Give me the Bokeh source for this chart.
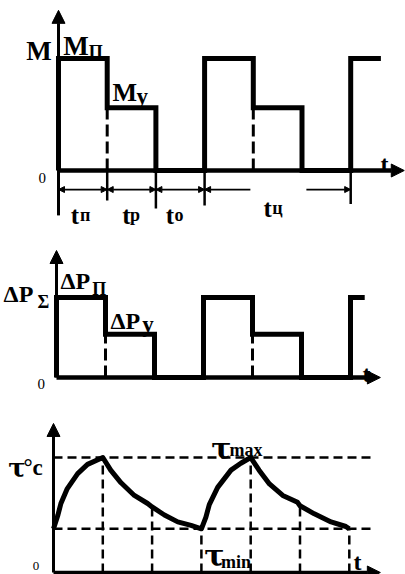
from bokeh.plotting import figure
from bokeh.models import Range1d, Arrow, NormalHead, Label
from bokeh.layouts import column
from bokeh.embed import file_html
from bokeh.resources import INLINE

# --- duty cycle data (time in units of one phase) ---
phase_labels = [("t", "п"), ("t", "р"), ("t", "о")]   # start-up, run, pause
phase_durations = [1.0, 1.0, 1.0]
cycle_label = ("t", "ц")
cycles_shown = 2

torque_levels = [1.0, 0.56, 0.0]      # M_п, M_у, rest
torque_tail = 0.62                    # start of the next cycle
loss_levels = [1.0, 0.54, 0.0]        # ΔP_п, ΔP_у, rest
loss_tail = 0.29

# motor temperature over two cycles (relative to τmax)
temp_t = [0.0, 0.09, 0.15, 0.28, 0.49, 0.69, 1.0,
          1.16, 1.37, 1.64, 1.91, 2.0,
          2.25, 2.52, 2.79, 3.0,
          3.09, 3.16, 3.33, 3.60, 3.80, 4.0,
          4.17, 4.38, 4.65, 4.95, 5.0,
          5.29, 5.63, 5.93, 6.0]
temp_v = [0.38, 0.50, 0.60, 0.73, 0.86, 0.94, 1.0,
          0.89, 0.78, 0.67, 0.60, 0.57,
          0.50, 0.44, 0.41, 0.38,
          0.48, 0.59, 0.74, 0.89, 0.95, 1.0,
          0.89, 0.77, 0.67, 0.61, 0.58,
          0.51, 0.44, 0.40, 0.38]
tau_max = 1.0
tau_min = 0.38

W = 405
SERIF = "Liberation Serif"
GREEK = "DejaVu Serif"


def panel(height, x0, ux, base, uy):
    """Blank panel whose data origin sits x0 px from the left and base px from the top."""
    p = figure(width=W, height=height,
               x_range=Range1d(-x0 / ux, (W - x0) / ux),
               y_range=Range1d(-(height - base) / uy, base / uy),
               output_backend="svg", toolbar_location=None,
               x_axis_location=None, y_axis_location=None,
               min_border=0, min_border_left=0, min_border_right=0,
               min_border_top=0, min_border_bottom=0)
    p.grid.visible = False
    p.outline_line_color = None
    p.background_fill_color = "white"
    p.border_fill_color = "white"
    return p


def txt(p, x, y, s, size, bold=True, font=SERIF):
    p.add_layout(Label(x=x, y=y, text=s, text_font=font,
                       text_font_size=f"{size}px",
                       text_font_style="bold" if bold else "normal",
                       text_align="left", text_baseline="alphabetic",
                       text_color="black"))


def axes(p, y_from, y_tip, x_tip, xw=4.5, yw=3):
    p.add_layout(Arrow(x_start=0, y_start=y_from, x_end=0, y_end=y_tip,
                       line_width=yw, line_color="black",
                       end=NormalHead(size=13, fill_color="black", line_color="black")))
    p.add_layout(Arrow(x_start=0, y_start=0, x_end=x_tip, y_end=0,
                       line_width=xw, line_color="black",
                       end=NormalHead(size=13, fill_color="black", line_color="black")))


def step_path(levels, durations, cycles, tail):
    xs, ys = [0.0], [0.0]
    t = 0.0
    for _ in range(cycles):
        for lvl, d in zip(levels, durations):
            xs += [t, t + d]
            ys += [lvl, lvl]
            t += d
    xs += [t, t + tail]
    ys += [levels[0], levels[0]]
    return xs, ys


cycle_len = sum(phase_durations)
bounds = [0.0]
for d in phase_durations:
    bounds.append(bounds[-1] + d)

# ---------------- torque ----------------
p1 = panel(228, 58, 48.7, 170, 112)
axes(p1, -0.40, 1.43, 7.10)
xs, ys = step_path(torque_levels, phase_durations, cycles_shown, torque_tail)
p1.line(xs, ys, line_width=5, color="black", line_join="miter")
for c in range(cycles_shown):
    xd = c * cycle_len + bounds[1]
    p1.line([xd, xd], [0, torque_levels[1]], line_width=3, color="black",
            line_dash="12 5")

txt(p1, -0.66, 1.07, "M", 27)
txt(p1, 0.10, 1.116, "M", 27)
txt(p1, 0.62, 1.062, "П", 18)
txt(p1, 1.109, 0.696, "M", 26)
txt(p1, 1.60, 0.66, "у", 23)
txt(p1, -0.41, -0.071, "0", 15, bold=False)
txt(p1, 6.61, 0.0625, "t", 24)

# phase durations under the time axis
row_y = -0.17
tick_ends = [-0.40, -0.268, -0.339, -0.3125]
for b, yb in zip(bounds, tick_ends):
    p1.line([b, b], [0, yb], line_width=2.5, color="black")
p1.line([cycles_shown * cycle_len] * 2, [0, -0.30], line_width=2.5, color="black")
for a, b in zip(bounds[:-1], bounds[1:]):
    p1.add_layout(Arrow(x_start=a, y_start=row_y, x_end=b, y_end=row_y,
                        line_width=1.8, line_color="black",
                        start=NormalHead(size=6, fill_color="black", line_color="black"),
                        end=NormalHead(size=6, fill_color="black", line_color="black")))
label_x = [(0.25, 0.44), (1.31, 1.47), (2.20, 2.38)]
row_base = -0.40
for (main, sub), (xm, xs_) in zip(phase_labels, label_x):
    txt(p1, xm, row_base, main, 25)
    txt(p1, xs_, row_base, sub, 18)

c0, c1 = cycle_len, 2 * cycle_len
p1.add_layout(Arrow(x_start=3.94, y_start=row_y, x_end=c0, y_end=row_y,
                    line_width=1.8, line_color="black",
                    end=NormalHead(size=6, fill_color="black", line_color="black")))
p1.add_layout(Arrow(x_start=5.09, y_start=row_y, x_end=c1, y_end=row_y,
                    line_width=1.8, line_color="black",
                    end=NormalHead(size=6, fill_color="black", line_color="black")))
txt(p1, 4.21, -0.339, cycle_label[0], 25)
txt(p1, 4.39, -0.339, cycle_label[1], 18)

# ---------------- losses ----------------
p2 = panel(164, 56, 49, 149, 80)
axes(p2, 0, 1.5875, 6.61)
xs, ys = step_path(loss_levels, phase_durations, cycles_shown, loss_tail)
p2.line(xs, ys, line_width=5, color="black", line_join="miter")
for c in range(cycles_shown):
    xd = c * cycle_len + bounds[1]
    p2.line([xd, xd], [0, loss_levels[1]], line_width=3, color="black",
            line_dash="12 5")

txt(p2, -1.08, 1.05, "ΔP", 24)
txt(p2, -0.39, 0.94, "Σ", 18)
txt(p2, 0.08, 1.2125, "ΔP", 24)
txt(p2, 0.73, 1.1125, "П", 18)
txt(p2, 1.10, 0.7125, "ΔP", 24)
txt(p2, 1.75, 0.6625, "у", 23)
txt(p2, -0.39, -0.075, "0", 15, bold=False)
txt(p2, 6.245, 0.05, "t", 24)

# ---------------- temperature ----------------
p3 = panel(182, 53, 49.3, 180, 115)
axes(p3, 0, 1.296, 6.63, xw=3.5)
x_end = 6.49
p3.line([0, x_end], [tau_max, tau_max], line_width=2.5, color="black", line_dash="9 5")
p3.line([0, x_end], [tau_min, tau_min], line_width=2.5, color="black", line_dash="9 5")
for tk in range(1, 2 * len(phase_durations) + 1):
    v = temp_v[temp_t.index(float(tk))]
    p3.line([tk, tk], [0, v], line_width=2.5, color="black", line_dash="9 5")
p3.line(temp_t, temp_v, line_width=5, color="black", line_join="round")

txt(p3, -0.92, 0.913, "τ", 26, font=GREEK)
txt(p3, -0.61, 0.913, "°c", 23)
txt(p3, 3.20, 1.078, "τ", 30, font=GREEK)
txt(p3, 3.57, 1.065, "max", 18)
txt(p3, 3.06, 0.15, "τ", 30, font=GREEK)
txt(p3, 3.40, 0.09, "min", 18)
txt(p3, 6.085, 0.09, "t", 24)
txt(p3, -0.42, 0.06, "0", 13, bold=False)

layout = column(p1, p2, p3, spacing=0)
open("out.html", "w").write(file_html(layout, INLINE))
